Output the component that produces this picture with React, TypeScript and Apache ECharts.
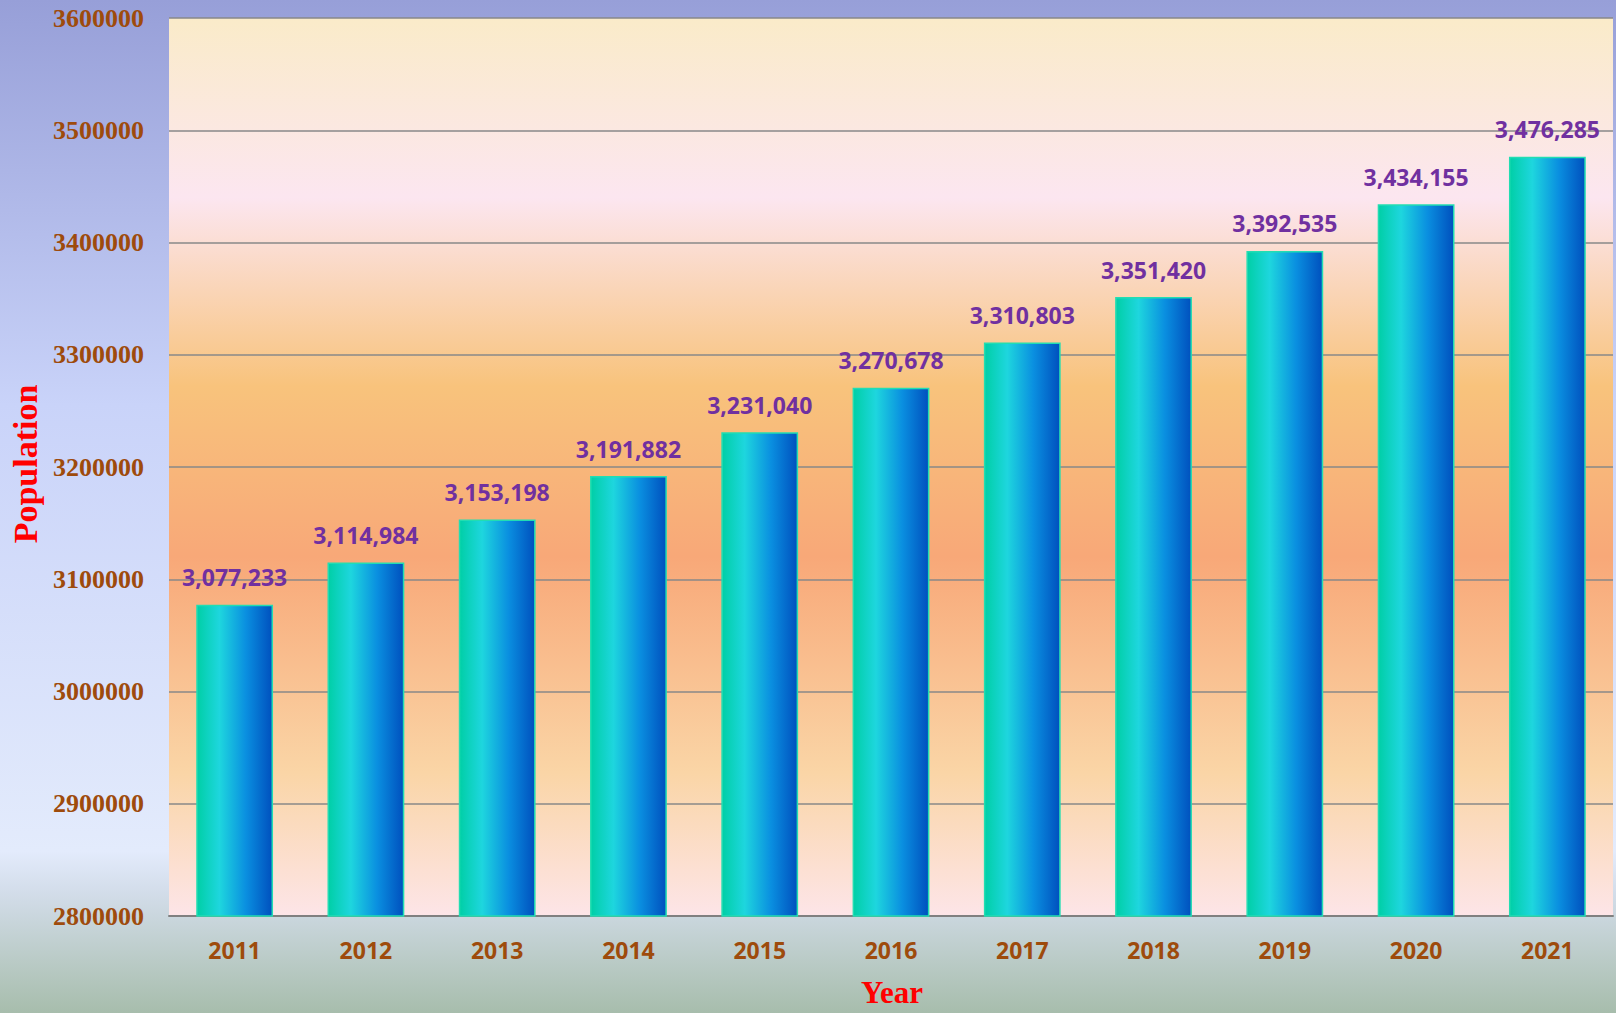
import React, { useEffect, useRef } from "react";
import * as echarts from "echarts";

const years = ["2011", "2012", "2013", "2014", "2015", "2016", "2017", "2018", "2019", "2020", "2021"];
const population = [3077233, 3114984, 3153198, 3191882, 3231040, 3270678, 3310803, 3351420, 3392535, 3434155, 3476285];
const yMin = 2800000;
const yMax = 3600000;
const yStep = 100000;

export default function App() {
  const ref = useRef<HTMLDivElement>(null);
  useEffect(() => {
    if (!ref.current) return;
    const chart = echarts.init(ref.current, null, { renderer: "svg" });
    const brown = "#9E4B0C";
    chart.setOption({
      animation: false,
      backgroundColor: {
        type: "linear", x: 0, y: 0, x2: 0, y2: 1,
        colorStops: [
          { offset: 0, color: "#979FD8" },
          { offset: 0.4, color: "#C9D3F9" },
          { offset: 0.84, color: "#E3EBFC" },
          { offset: 0.88, color: "#D3DDEA" },
          { offset: 1, color: "#A7BDAC" },
        ],
      },
      grid: {
        left: 169, right: 3, top: 18, bottom: 97,
        show: true,
        borderWidth: 0,
        backgroundColor: {
          type: "linear", x: 0, y: 0, x2: 0, y2: 1,
          colorStops: [
            { offset: 0, color: "#FAEBC9" },
            { offset: 0.2, color: "#FCE6F0" },
            { offset: 0.41, color: "#F8C37C" },
            { offset: 0.6, color: "#F8A878" },
            { offset: 0.84, color: "#FAD5A6" },
            { offset: 1, color: "#FDE5E8" },
          ],
        },
      },
      xAxis: {
        type: "category",
        data: years,
        axisTick: { show: false },
        axisLine: { show: true, lineStyle: { color: "#808080", width: 2 } },
        axisLabel: {
          color: brown, fontFamily: "Open Sans", fontWeight: "bold", fontSize: 23, margin: 22,
        },
      },
      yAxis: {
        type: "value",
        min: yMin, max: yMax, interval: yStep,
        axisLine: { show: false },
        axisTick: { show: false },
        splitLine: { show: true, lineStyle: { color: "#888888", width: 1.5 } },
        axisLabel: {
          color: brown, fontFamily: "Liberation Serif", fontWeight: "bold", fontSize: 26, margin: 25,
          formatter: (v: number) => String(v),
        },
      },
      graphic: [
        {
          type: "text", x: 25, y: 464, rotation: Math.PI / 2,
          style: {
            text: "Population", fill: "#FF0000", font: "bold 34px 'Liberation Serif'",
            textAlign: "center", textVerticalAlign: "middle",
          },
        },
        {
          type: "text", x: 892, y: 992,
          style: {
            text: "Year", fill: "#FF0000", font: "bold 31px 'Liberation Serif'",
            textAlign: "center", textVerticalAlign: "middle",
          },
        },
      ],
      series: [
        {
          type: "bar",
          data: population,
          barWidth: "58.5%",
          itemStyle: {
            color: {
              type: "linear", x: 0, y: 0, x2: 1, y2: 0,
              colorStops: [
                { offset: 0, color: "#00CFA6" },
                { offset: 0.3, color: "#1ED6DE" },
                { offset: 0.65, color: "#0A8FE0" },
                { offset: 1, color: "#0050BE" },
              ],
            },
            borderColor: "#22DDB2",
            borderWidth: 1.5,
          },
          label: {
            show: true,
            position: "top",
            distance: 16,
            color: "#7030A0",
            fontFamily: "Open Sans",
            fontWeight: "bold",
            fontSize: 23,
            formatter: (p: any) => Number(p.value).toLocaleString("en-US"),
          },
        },
      ],
    });
    return () => chart.dispose();
  }, []);
  return (
    <div
      ref={ref}
      style={{ position: "fixed", left: 0, top: 0, width: 1616, height: 1013 }}
    />
  );
}
